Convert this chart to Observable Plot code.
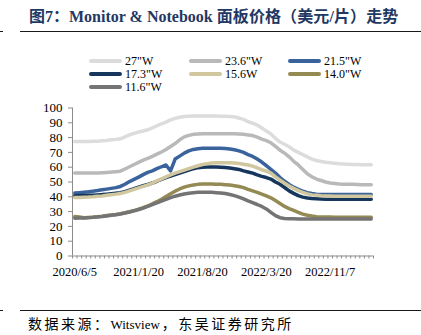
<!DOCTYPE html>
<html><head><meta charset="utf-8">
<script src="https://cdn.jsdelivr.net/npm/d3@7"></script>
<script src="https://cdn.jsdelivr.net/npm/@observablehq/plot@0.6"></script>
<style>
body{margin:0;background:#fff;}
#wrap{position:relative;width:421px;height:335px;overflow:hidden;background:#fff;font-family:"Liberation Serif","Noto Sans CJK SC",serif;}
#title{position:absolute;left:29px;top:8px;line-height:18px;font-size:16px;font-weight:bold;color:#1F3864;white-space:nowrap;font-family:"Liberation Serif","Noto Sans CJK SC",serif;}
#title .cj{letter-spacing:0.1px;}
.rule{position:absolute;height:0;border-top:1.5px solid #1a1a1a;}
#legend .item{position:absolute;height:14px;display:flex;align-items:center;white-space:nowrap;font-size:12px;color:#000;}
#legend .sw{width:33px;height:4px;border-radius:2px;margin-right:3px;}
#chart{position:absolute;left:0;top:95px;}
#source{position:absolute;left:28px;top:316px;line-height:17px;font-size:14px;color:#000;white-space:nowrap;font-family:"Liberation Serif","Noto Sans CJK SC",serif;}
#source .cj{letter-spacing:2.5px;}
#source .lat{font-size:13px;margin-right:2px;}
</style></head><body>
<div id="wrap">
  <div id="title">图7：Monitor &amp; Notebook <span class="cj">面板价格（美元/片）走势</span></div>
  <div class="rule" style="left:20px;top:31px;width:401px;"></div>
  <div class="rule" style="left:0px;top:31px;width:3px;border-top-width:1px;"></div>
  <div id="legend"></div>
  <div id="chart"></div>
  <div class="rule" style="left:20px;top:310px;width:401px;"></div>
  <div class="rule" style="left:0px;top:310px;width:3px;border-top-width:1px;"></div>
  <div id="source"><span class="cj">数据来源：</span><span class="lat">Witsview</span><span class="cj">，东吴证券研究所</span></div>
</div>
<script>
const dateLabels = ["2020/6/5", "2021/1/20", "2021/8/20", "2022/3/20", "2022/11/7"];
const labelIndex = [0, 14, 28, 42, 56];
const yTicks = [0, 10, 20, 30, 40, 50, 60, 70, 80, 90, 100];
const seriesNames = ['27"W', '23.6"W', '21.5"W', '17.3"W', '15.6W', '14.0"W', '11.6"W'];
const seriesColors = ["#DCDCDC", "#B9B9B9", "#3A639C", "#17365D", "#D0C79E", "#948A54", "#747474"];

const s27 = [77.3,77.3,77.3,77.4,77.5,77.6,77.8,78.0,78.5,78.8,
  79.2,80.5,81.8,82.8,83.8,84.5,85.3,86.5,88.0,89.3,
  90.5,92.0,93.0,93.7,94.2,94.5,94.6,94.6,94.6,94.6,
  94.6,94.6,94.5,94.5,94.3,94.0,93.2,92.3,90.8,89.7,
  88.5,86.5,84.5,82.5,79.5,77.0,75.5,73.8,71.5,70.0,
  68.5,67.0,65.5,64.5,63.8,63.3,63.0,62.6,62.3,62.1,
  62.0,61.9,61.8,61.7,61.6,61.6];
const s236 = [56,56,56,56,56,56.1,56.3,56.5,56.7,57,
  57.3,58.8,60.3,61.8,63.3,64.8,66,67.3,68.8,70.3,
  72,74,76,78.5,80.5,81.5,82.2,82.5,82.6,82.6,
  82.6,82.6,82.6,82.6,82.6,82.6,82.5,82.2,81.8,81.4,
  80.3,79,78,76.5,74,71.5,69.5,67,64,61.5,
  58.5,55.5,53.5,52,51,50,49.3,49,48.7,48.5,
  48.5,48.4,48.3,48.2,48.2,48.2];
const s215 = [42.5,42.8,43.1,43.4,43.8,44.2,44.7,45.2,45.7,46.2,
  47,48.5,50.3,51.8,53.3,55,56.5,57.5,59,60.3,
  61.5,57.5,65.5,67.5,69.5,71,72,72.5,72.8,72.8,
  72.8,72.8,72.8,72.7,72.3,71.8,71,70,68.5,67.3,
  65.5,63.5,61,58.5,56,53,50.5,48.3,46.5,45,
  43.8,42.8,42.2,41.8,41.6,41.5,41.5,41.5,41.5,41.5,
  41.5,41.5,41.5,41.5,41.5,41.5];
const s173 = [40.7,40.8,40.9,41,41.1,41.3,41.5,41.8,42.1,42.4,
  42.7,43.5,44.5,45.5,46.5,47.5,48.3,49.3,50.5,51.8,
  53,54,55,56,57,58,59,59.7,60,60.1,
  60.1,60.1,60,59.8,59.5,59,58.5,57.5,56.8,56,
  54.8,53.8,53,52,50,48.5,46.3,44,42.3,40.8,
  39.8,39.2,38.8,38.6,38.5,38.4,38.4,38.3,38.3,38.3,
  38.3,38.3,38.3,38.3,38.3,38.3];
const s156 = [39.5,39.6,39.7,39.8,40,40.3,40.6,41,41.4,41.8,
  42.2,43,44,45,46,47,48,49.3,50.7,52,
  53.5,54.8,56,57,58,59,60,61,61.8,62.4,
  62.8,63,63,63,63,62.8,62.5,62,61.5,60.7,
  59.5,58.3,57.3,56,53.5,51.3,49.2,47.3,45.7,44.2,
  43,42,41.3,41,40.7,40.5,40.5,40.4,40.4,40.4,
  40.4,40.4,40.4,40.4,40.4,40.4];
const s140 = [26.7,26.3,25.9,26.1,26.3,26.6,26.9,27.3,27.7,28.1,
  28.6,29.2,29.9,30.7,31.6,32.6,33.8,35.2,36.7,38.3,
  40.2,42,43.8,45.3,46.5,47.4,48,48.4,48.6,48.6,
  48.6,48.5,48.4,48.2,47.9,47.5,47,46.2,45,44,
  43,41.8,40.6,39.3,37.5,35.5,33.5,32,30.8,29.5,
  28.3,27.5,27,26.6,26.4,26.3,26.3,26.2,26.2,26.2,
  26.2,26.2,26.2,26.2,26.2,26.2];
const s116 = [25.5,25.6,25.7,25.9,26.1,26.4,26.7,27.1,27.5,27.9,
  28.4,29,29.7,30.5,31.4,32.4,33.5,34.7,35.9,37.1,
  38.3,39.4,40.4,41.2,41.9,42.4,42.8,43,43.1,43.1,
  43,42.8,42.6,42.2,41.6,40.8,39.8,38.6,37.2,36,
  34.8,33.5,31.8,29.5,27.3,25.9,25.4,25.2,25.1,25,
  25,25,25,25,25,25,25,25,25,25,
  25,25,25,25,25,25];

const seriesValues = [s27, s236, s215, s173, s156, s140, s116];
const nPoints = s27.length;
const xStart = -0.5, xEnd = nPoints - 0.5;

// legend
const legend = document.getElementById("legend");
const colLeft = [89, 189, 288];
seriesNames.forEach((name, k) => {
  const item = document.createElement("div");
  item.className = "item";
  item.style.left = colLeft[k % 3] + "px";
  item.style.top = (54 + 13 * Math.floor(k / 3)) + "px";
  const sw = document.createElement("div");
  sw.className = "sw";
  sw.style.background = seriesColors[k];
  const t = document.createElement("span");
  t.textContent = name;
  item.appendChild(sw); item.appendChild(t);
  legend.appendChild(item);
});

const rows = seriesValues.flatMap((vals, k) => vals.map((v, i) => ({i, v, s: seriesNames[k]})));
const boundaries = d3.range(xStart, xEnd + 0.01, 1);

const chart = Plot.plot({
  width: 421, height: 190,
  marginTop: 12.5, marginBottom: 29.5, marginLeft: 72, marginRight: 48,
  x: {domain: [xStart, xEnd]},
  y: {domain: [0, 100]},
  style: {fontFamily: "Liberation Serif", fontSize: "13px", color: "#000", background: "transparent", overflow: "visible"},
  marks: [
    Plot.axisY({ticks: yTicks, tickSize: 4, tickPadding: 6, stroke: "#8c8c8c", fill: "#000", label: null, fontSize: 13}),
    Plot.axisX({ticks: boundaries, tickSize: 3, tickFormat: () => "", stroke: "#8c8c8c", label: null}),
    Plot.axisX({ticks: labelIndex, tickSize: 0, tickPadding: 11.5, tickFormat: d => dateLabels[labelIndex.indexOf(d)], fill: "#000", label: null, fontSize: 12.5}),
    Plot.ruleX([xStart], {stroke: "#8c8c8c"}),
    Plot.ruleY([0], {stroke: "#8c8c8c"}),
    ...seriesNames.map((name, k) => Plot.line(rows.filter(r => r.s === name), {x: "i", y: "v", stroke: seriesColors[k], strokeWidth: 3.5}))
  ]
});
document.getElementById("chart").appendChild(chart);
</script>
</body></html>
